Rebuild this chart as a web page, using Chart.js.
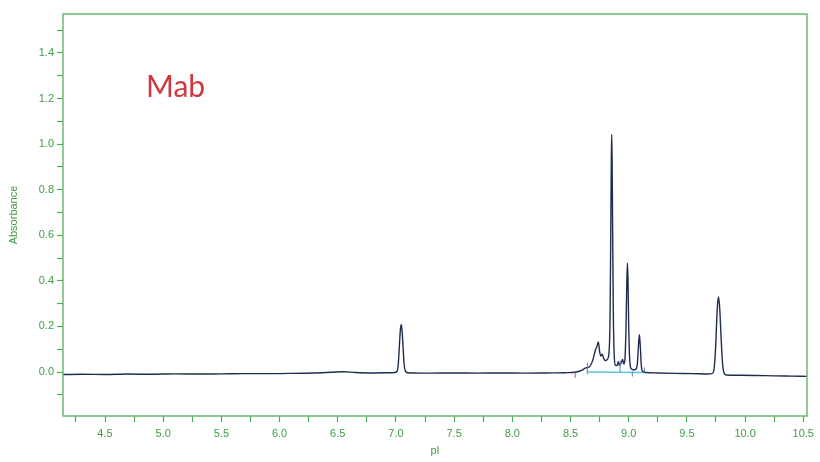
<!DOCTYPE html>
<html>
<head>
<meta charset="utf-8">
<script src="https://cdn.jsdelivr.net/npm/chart.js@4/dist/chart.umd.min.js"></script>
<style>
  html, body { margin: 0; padding: 0; background: #fff; }
  #wrap { width: 820px; height: 462px; }
</style>
</head>
<body>
<div id="wrap"><canvas id="chart"></canvas></div>
<script>
// Absorbance trace (pI vs absorbance)
const traceX = [
  4.14, 4.30, 4.50, 4.70, 4.90, 5.10, 5.30, 5.50, 5.70, 5.90, 6.10, 6.30, 6.45, 6.55, 6.65, 6.80, 6.95,
  6.99, 7.010, 7.020, 7.030, 7.038, 7.045, 7.052, 7.060, 7.070, 7.080, 7.10,
  7.30, 7.50, 7.70, 7.90, 8.10, 8.30, 8.45, 8.55, 8.60, 8.63, 8.66, 8.69, 8.71, 8.725, 8.739, 8.75,
  8.76, 8.773, 8.785, 8.80, 8.815, 8.83, 8.840, 8.846, 8.851, 8.854, 8.857, 8.862, 8.868, 8.875,
  8.885, 8.90, 8.91, 8.92, 8.935, 8.948, 8.958, 8.968, 8.977, 8.984, 8.989, 8.994, 9.000, 9.008,
  9.02, 9.04, 9.06, 9.075, 9.083, 9.092, 9.100, 9.108, 9.12, 9.15, 9.25, 9.40, 9.55, 9.68,
  9.72, 9.735, 9.748, 9.760, 9.771, 9.782, 9.794, 9.806, 9.82, 9.84, 9.95, 10.10, 10.25, 10.40, 10.53
];
const traceY = [
  -0.011, -0.010, -0.011, -0.009, -0.010, -0.008, -0.009, -0.008, -0.007, -0.007, -0.006, -0.004, -0.001, 0.001, -0.002, -0.004, -0.003,
  -0.002, 0.004, 0.035, 0.120, 0.185, 0.209, 0.185, 0.120, 0.035, 0.005, -0.003,
  -0.005, -0.004, -0.005, -0.004, -0.005, -0.004, -0.003, 0.000, 0.008, 0.018, 0.022, 0.050, 0.090, 0.110, 0.132, 0.090,
  0.070, 0.078, 0.060, 0.050, 0.055, 0.080, 0.250, 0.620, 0.950, 1.043, 0.950, 0.620, 0.250, 0.080,
  0.030, 0.028, 0.045, 0.030, 0.040, 0.055, 0.035, 0.060, 0.200, 0.400, 0.477, 0.400, 0.200, 0.060,
  0.015, 0.010, 0.012, 0.040, 0.110, 0.164, 0.110, 0.030, 0.003, -0.002, -0.004, -0.006, -0.007, -0.009,
  -0.006, 0.020, 0.120, 0.270, 0.331, 0.280, 0.150, 0.040, -0.005, -0.013, -0.014, -0.015, -0.017, -0.018, -0.019
];

// integration baseline and peak markers
const baseX = [8.645, 9.135];
const baseY = [0.000, -0.002];
const startMarkX = [8.54];
const startMarkLow = [-0.025];
const startMarkHigh = [-0.002];
const markX = [8.645, 8.926, 9.031, 9.135];
const markLow = [-0.010, 0.000, -0.020, 0.000];
const markHigh = [0.040, 0.050, 0.003, 0.020];

const xTicks = [4.25, 4.5, 4.75, 5.0, 5.25, 5.5, 5.75, 6.0, 6.25, 6.5, 6.75, 7.0, 7.25, 7.5, 7.75,
  8.0, 8.25, 8.5, 8.75, 9.0, 9.25, 9.5, 9.75, 10.0, 10.25, 10.5];
const yTicks = [-0.1, 0.0, 0.1, 0.2, 0.3, 0.4, 0.5, 0.6, 0.7, 0.8, 0.9, 1.0, 1.1, 1.2, 1.3, 1.4, 1.5];

const GREEN_TEXT = "#3f9c44";
const GREEN_TICK = "#4fae55";
const GREEN_BORDER = "#68bb6e";

function segments(xs, lows, highs) {
  const out = [];
  xs.forEach((x, i) => {
    out.push({ x: x, y: lows[i] });
    out.push({ x: x, y: highs[i] });
    out.push({ x: x, y: null });
  });
  return out;
}

const frame = {
  id: "frame",
  afterDatasetsDraw(chart) {
    const a = chart.chartArea;
    const ctx = chart.ctx;
    ctx.save();
    ctx.strokeStyle = GREEN_BORDER;
    ctx.lineWidth = 1.5;
    ctx.strokeRect(a.left, a.top, a.right - a.left, a.bottom - a.top);
    ctx.font = "30px Lato";
    ctx.fillStyle = "#d0383e";
    ctx.textBaseline = "alphabetic";
    ctx.fillText("Mab", 146, 97);
    ctx.restore();
  }
};

const ctx = document.getElementById("chart").getContext("2d");
new Chart(ctx, {
  type: "line",
  data: {
    datasets: [
      {
        data: traceX.map((x, i) => ({ x: x, y: traceY[i] })),
        borderColor: "#1e2c4e",
        borderWidth: 1.4,
        pointRadius: 0,
        cubicInterpolationMode: "monotone",
        order: 1
      },
      {
        data: baseX.map((x, i) => ({ x: x, y: baseY[i] })),
        borderColor: "#5cc6dc",
        borderWidth: 1.4,
        pointRadius: 0,
        order: 2
      },
      {
        data: segments(startMarkX, startMarkLow, startMarkHigh),
        borderColor: "#c04a8c",
        borderWidth: 1,
        pointRadius: 0,
        spanGaps: false,
        order: 0
      },
      {
        data: segments(markX, markLow, markHigh),
        borderColor: "#5a82bc",
        borderWidth: 1,
        pointRadius: 0,
        spanGaps: false,
        order: 0
      }
    ]
  },
  options: {
    responsive: true,
    maintainAspectRatio: false,
    animation: false,
    layout: { padding: { top: 14, right: 13, left: 0, bottom: 0 } },
    plugins: {
      legend: { display: false },
      tooltip: { enabled: false }
    },
    scales: {
      x: {
        type: "linear",
        min: 4.139,
        max: 10.532,
        afterFit: s => { s.height = 46; },
        afterBuildTicks: s => { s.ticks = xTicks.map(v => ({ value: v })); },
        grid: { drawOnChartArea: false, tickLength: 6, tickColor: GREEN_TICK, tickWidth: 1.2 },
        border: { display: false },
        ticks: {
          color: GREEN_TEXT,
          padding: 5,
          maxRotation: 0,
          autoSkip: false,
          font: { family: "'Liberation Sans', Arial, sans-serif", size: 11 },
          callback: v => (Math.abs(v * 2 - Math.round(v * 2)) < 1e-6 ? v.toFixed(1) : "")
        },
        title: {
          display: true,
          text: "pI",
          color: GREEN_TEXT,
          padding: { top: 0, bottom: 4 },
          font: { family: "'Liberation Sans', Arial, sans-serif", size: 11 }
        }
      },
      y: {
        min: -0.193,
        max: 1.571,
        afterFit: s => { s.width = 63; },
        afterBuildTicks: s => { s.ticks = yTicks.map(v => ({ value: v })); },
        grid: { drawOnChartArea: false, tickLength: 6, tickColor: GREEN_TICK, tickWidth: 1.2 },
        border: { display: false },
        ticks: {
          color: GREEN_TEXT,
          padding: 3,
          autoSkip: false,
          font: { family: "'Liberation Sans', Arial, sans-serif", size: 11 },
          callback: v => {
            const r = Math.round(v * 10);
            return (r % 2 === 0 && r >= 0 && r <= 14) ? (r / 10).toFixed(1) : "";
          }
        },
        title: {
          display: true,
          text: "Absorbance",
          color: GREEN_TEXT,
          padding: { top: 7, bottom: 0 },
          font: { family: "'Liberation Sans', Arial, sans-serif", size: 11 }
        }
      }
    }
  },
  plugins: [frame]
});
</script>
</body>
</html>
